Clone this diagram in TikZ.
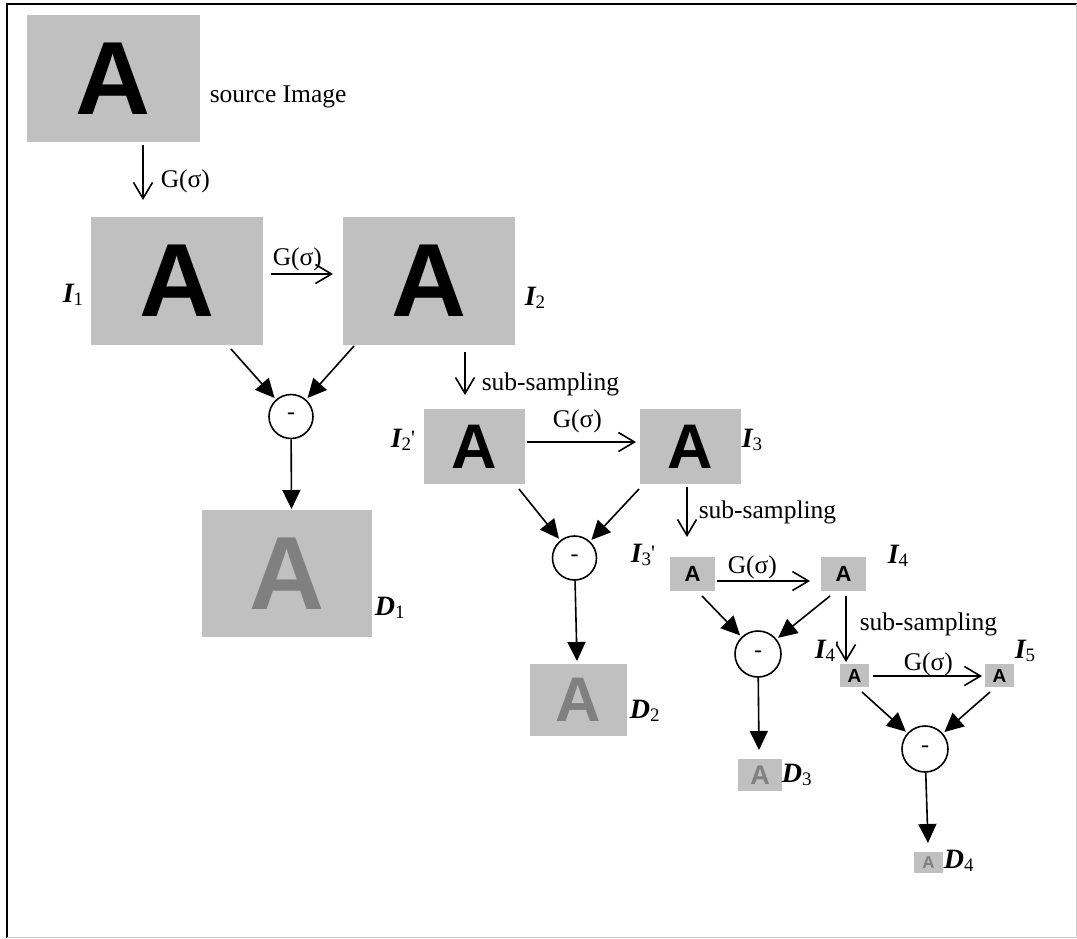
\documentclass[tikz,border=0pt]{standalone}
\usepackage{fontspec}
\setmainfont{Liberation Serif}
\newfontfamily\boxfont{Liberation Sans}
\usetikzlibrary{arrows.meta}

\definecolor{boxgray}{HTML}{C0C0C0}
\definecolor{diffgray}{HTML}{808080}
\definecolor{framegray}{HTML}{C8C8C8}

% label such as I_1 or D_2: bold italic letter, upright lowered index
\newcommand\pyrlabel[2]{{\fontsize{28}{32}\selectfont\bfseries\itshape #1}{\fontsize{19}{22}\selectfont\raisebox{-3pt}{#2}}}
% same, with a prime after the index
\newcommand\pyrlabelp[2]{\pyrlabel{#1}{#2}{\fontsize{22}{24}\selectfont\raisebox{2pt}{\textquotesingle}}}

\begin{document}
\begin{tikzpicture}[x=1pt,y=-1pt,
  line width=1.6pt,
  img/.style={fill=boxgray, inner sep=0pt, font=\boxfont\bfseries},
  glyphXL/.style={font=\boxfont\bfseries\fontsize{104}{104}\selectfont},
  glyphL/.style={font=\boxfont\bfseries\fontsize{63}{63}\selectfont},
  glyphM/.style={font=\boxfont\bfseries\fontsize{27}{27}\selectfont},
  glyphS/.style={font=\boxfont\bfseries\fontsize{22}{22}\selectfont},
  glyphXS/.style={font=\boxfont\bfseries\fontsize{19}{19}\selectfont},
  glyphXXS/.style={font=\boxfont\bfseries\fontsize{17}{17}\selectfont},
  diff/.style={text=diffgray},
  txt/.style={font=\fontsize{25.5}{30}\selectfont, inner sep=0pt, anchor=base west},
  lbl/.style={inner sep=0pt, anchor=base west},
  minus/.style={circle, draw, line width=1.6pt, minimum size=44pt, inner sep=0pt, font=\fontsize{24}{24}\selectfont},
  openarr/.style={-{Straight Barb[length=16pt,width=19pt]}},
  tri/.style={-{Triangle[length=19pt,width=18pt]}},
  fillarr/.style={tri, shorten >=2pt},
]
\useasboundingbox (0,0) rectangle (1077,938);

% frame
\draw[line width=2.2pt] (1077,4) -- (7,4) -- (7,938);
\draw[framegray, line width=1pt] (1076,4) -- (1076,937) -- (7,937);

% images
\node[img, glyphXL, minimum width=173pt, minimum height=127pt] (src) at (113.5,78.5) {A};
\node[img, glyphXL, minimum width=172pt, minimum height=128pt] (I1) at (177,281) {A};
\node[img, glyphXL, minimum width=172pt, minimum height=128pt] (I2) at (429,281) {A};
\node[img, glyphXL, diff, minimum width=170pt, minimum height=127pt] (D1) at (287,573.5) {A};

\node[img, glyphL, minimum width=101pt, minimum height=75pt] (I2p) at (474.5,446.5) {A};
\node[img, glyphL, minimum width=101pt, minimum height=75pt] (I3) at (690.5,446.5) {A};
\node[img, glyphL, diff, minimum width=97pt, minimum height=72pt] (D2) at (578.5,700) {A};

\node[img, glyphS, minimum width=45pt, minimum height=34pt] (I3p) at (692.5,574) {A};
\node[img, glyphS, minimum width=45pt, minimum height=34pt] (I4) at (843.5,574) {A};
\node[img, glyphM, diff, minimum width=44pt, minimum height=32pt] (D3) at (760,775) {A};

\node[img, glyphXS, minimum width=29pt, minimum height=23pt] (I4p) at (854.5,675.5) {A};
\node[img, glyphXS, minimum width=29pt, minimum height=23pt] (I5) at (999.5,675.5) {A};
\node[img, glyphXXS, diff, minimum width=29pt, minimum height=21pt] (D4) at (928.5,862.5) {A};

% difference operators
\node[minus] (c1) at (291,416.5) {-};
\node[minus] (c2) at (574.5,558) {-};
\node[minus, minimum size=46pt] (c3) at (758,654) {-};
\node[minus, minimum size=46pt] (c4) at (925,749) {-};

% texts
\node[txt] (tsrc) at (209,102) {source Image};
\node[txt] (g1) at (160,187) {G(σ)};
\node[txt] (g2) at (272,265) {G(σ)};
\node[txt] (g3) at (552,427) {G(σ)};
\node[txt] (g4) at (727,573) {G(σ)};
\node[txt] (g5) at (903,670) {G(σ)};
\node[txt] (ss1) at (481,390) {sub-sampling};
\node[txt] (ss2) at (698,518) {sub-sampling};
\node[txt] (ss3) at (859,630) {sub-sampling};

\node[lbl] (lI1) at (62,302) {\pyrlabel{I}{1}};
\node[lbl] (lI2) at (524,305) {\pyrlabel{I}{2}};
\node[lbl] (lI2p) at (390,447) {\pyrlabelp{I}{2}};
\node[lbl] (lI3) at (741,447) {\pyrlabel{I}{3}};
\node[lbl] (lI3p) at (630,562) {\pyrlabelp{I}{3}};
\node[lbl] (lI4) at (887,563) {\pyrlabel{I}{4}};
\node[lbl] (lI4p) at (814,658) {\pyrlabelp{I}{4}};
\node[lbl] (lI5) at (1014,658) {\pyrlabel{I}{5}};
\node[lbl] (lD1) at (374,615) {\pyrlabel{D}{1}};
\node[lbl] (lD2) at (629,718) {\pyrlabel{D}{2}};
\node[lbl] (lD3) at (781,782) {\pyrlabel{D}{3}};
\node[lbl] (lD4) at (943,868) {\pyrlabel{D}{4}};

% arrow end points
\coordinate (a0s) at (143,145);  \coordinate (a0e) at (143,200);
\coordinate (a1s) at (271,274);  \coordinate (a1e) at (333,274);
\coordinate (b1s) at (465,352);  \coordinate (b1e) at (465,395);
\coordinate (a2s) at (527,442);  \coordinate (a2e) at (636,442);
\coordinate (b2s) at (687,487);  \coordinate (b2e) at (687,537);
\coordinate (a3s) at (717,581);  \coordinate (a3e) at (810,581);
\coordinate (b3s) at (846,596);  \coordinate (b3e) at (846,662);
\coordinate (a4s) at (873,676);  \coordinate (a4e) at (982,676);

\coordinate (d1a) at (231,349);  \coordinate (d1b) at (354,346);
\coordinate (d2a) at (519,489);  \coordinate (d2b) at (639,489);
\coordinate (d3a) at (702,596);  \coordinate (d3b) at (830,596);
\coordinate (d4a) at (862,692);  \coordinate (d4b) at (990,692);

\coordinate (o1) at (291.5,509); \coordinate (o2) at (577,661);
\coordinate (o3) at (759,750);   \coordinate (o4) at (928,843);

% blurring and sub-sampling steps
\draw[openarr] (a0s) -- (a0e);
\draw[openarr] (a1s) -- (a1e);
\draw[openarr] (b1s) -- (b1e);
\draw[openarr] (a2s) -- (a2e);
\draw[openarr] (b2s) -- (b2e);
\draw[openarr] (a3s) -- (a3e);
\draw[openarr] (b3s) -- (b3e);
\draw[openarr] (a4s) -- (a4e);

% inputs of the differences
\draw[fillarr] (d1a) -- (c1);
\draw[fillarr] (d1b) -- (c1);
\draw[fillarr] (d2a) -- (c2);
\draw[fillarr] (d2b) -- (c2);
\draw[fillarr] (d3a) -- (c3);
\draw[fillarr] (d3b) -- (c3);
\draw[fillarr] (d4a) -- (c4);
\draw[fillarr] (d4b) -- (c4);

% differences
\draw[tri] (c1) -- (o1);
\draw[tri] (c2) -- (o2);
\draw[tri] (c3) -- (o3);
\draw[tri] (c4) -- (o4);
\end{tikzpicture}
\end{document}
